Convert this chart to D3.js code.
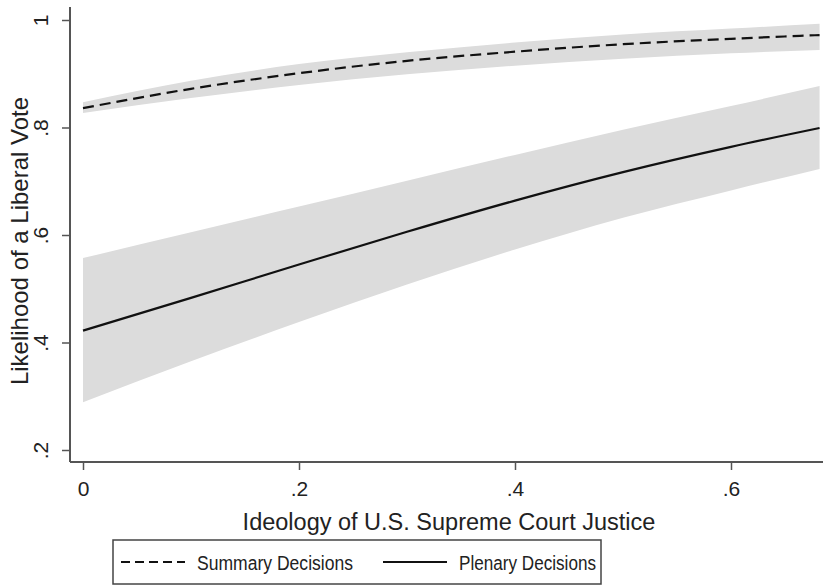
<!DOCTYPE html>
<html lang="en">
<head>
<meta charset="utf-8">
<title>D3: Likelihood of a Liberal Vote</title>
<script src="https://d3js.org/d3.v7.min.js"></script>
<style>
  body { margin: 0; background: #fff; }
  svg text {
    font-family: "Liberation Sans", Arial, sans-serif;
    fill: #222;
  }
  .axis line { stroke: #555; stroke-width: 1.5; }
  .frame { stroke: #555; stroke-width: 2; }
  .band { fill: #dcdcdc; stroke: none; }
  .fit { fill: none; stroke: #111; stroke-width: 2.2; }
</style>
</head>
<body>
<script>

//Width and height
var w = 823;
var h = 588;

var ideology = [0, 0.1, 0.2, 0.3, 0.4, 0.5, 0.6, 0.682];

//Summary decisions: fit and 95% band
var summaryFit   = [0.836, 0.872, 0.901, 0.924, 0.941, 0.955, 0.965, 0.972];
var summaryUpper = [0.847, 0.887, 0.918, 0.940, 0.958, 0.973, 0.984, 0.993];
var summaryLower = [0.827, 0.855, 0.879, 0.899, 0.915, 0.928, 0.938, 0.944];

//Plenary decisions: fit and 95% band
var plenaryFit   = [0.422, 0.483, 0.545, 0.606, 0.664, 0.717, 0.764, 0.799];
var plenaryUpper = [0.557, 0.605, 0.653, 0.701, 0.749, 0.796, 0.840, 0.877];
var plenaryLower = [0.289, 0.365, 0.438, 0.508, 0.573, 0.632, 0.683, 0.723];

//Ticks
var xTicks = [0, 0.2, 0.4, 0.6];
var xTickLabels = ["0", ".2", ".4", ".6"];
var yTicks = [0.2, 0.4, 0.6, 0.8, 1];
var yTickLabels = [".2", ".4", ".6", ".8", "1"];

var seriesNames = ["Summary Decisions", "Plenary Decisions"];

//Frame of the plot region
var frameLeft = 70, frameRight = 823, frameTop = 7, frameBottom = 462;

var xScale = d3.scaleLinear().domain([0, 0.6]).range([83, 731]);
var yScale = d3.scaleLinear().domain([0.2, 1]).range([450, 20]);

var svg = d3.select("body")
            .append("svg")
            .attr("width", w)
            .attr("height", h);

//Build row objects
function rows(fit, lo, hi) {
  return ideology.map(function(x, i) {
    return { x: x, fit: fit[i], lo: lo[i], hi: hi[i] };
  });
}
var summary = rows(summaryFit, summaryLower, summaryUpper);
var plenary = rows(plenaryFit, plenaryLower, plenaryUpper);

//Area and line generators
var area = d3.area()
             .curve(d3.curveMonotoneX)
             .x(function(d) { return xScale(d.x); })
             .y0(function(d) { return yScale(d.lo); })
             .y1(function(d) { return yScale(d.hi); });

var line = d3.line()
             .curve(d3.curveMonotoneX)
             .x(function(d) { return xScale(d.x); })
             .y(function(d) { return yScale(d.fit); });

//Confidence bands
svg.append("path").datum(summary).attr("class", "band").attr("d", area);
svg.append("path").datum(plenary).attr("class", "band").attr("d", area);

//Fitted lines
svg.append("path")
   .datum(summary)
   .attr("class", "fit")
   .attr("stroke-dasharray", "11,6")
   .attr("d", line);

svg.append("path")
   .datum(plenary)
   .attr("class", "fit")
   .attr("d", line);

//Axes
var xAxis = d3.axisBottom(xScale)
              .tickValues(xTicks)
              .tickSize(8)
              .tickFormat(function(d, i) { return xTickLabels[i]; });

var yAxis = d3.axisLeft(yScale)
              .tickValues(yTicks)
              .tickSize(8)
              .tickFormat(function(d, i) { return yTickLabels[i]; });

var gx = svg.append("g")
            .attr("class", "axis")
            .attr("transform", "translate(0," + frameBottom + ")")
            .call(xAxis);
gx.select(".domain").remove();
gx.selectAll("text")
  .attr("y", 34)
  .attr("dy", 0)
  .style("font-size", "21px");

var gy = svg.append("g")
            .attr("class", "axis")
            .attr("transform", "translate(" + frameLeft + ",0)")
            .call(yAxis);
gy.select(".domain").remove();
gy.selectAll("text")
  .attr("transform", "rotate(-90)")
  .attr("x", 0)
  .attr("y", -22)
  .attr("dy", 0)
  .style("text-anchor", "middle")
  .style("font-size", "21px");

//Axis lines
svg.append("line").attr("class", "frame")
   .attr("x1", frameLeft).attr("x2", frameLeft)
   .attr("y1", frameTop).attr("y2", frameBottom);
svg.append("line").attr("class", "frame")
   .attr("x1", frameLeft).attr("x2", frameRight)
   .attr("y1", frameBottom).attr("y2", frameBottom);

//Axis titles
svg.append("text")
   .attr("x", 449)
   .attr("y", 530)
   .style("text-anchor", "middle")
   .style("font-size", "23.5px")
   .text("Ideology of U.S. Supreme Court Justice");

svg.append("text")
   .attr("transform", "translate(28,241) rotate(-90)")
   .style("text-anchor", "middle")
   .style("font-size", "24px")
   .text("Likelihood of a Liberal Vote");

//Legend
var legend = svg.append("g").attr("transform", "translate(113,540)");

legend.append("rect")
      .attr("width", 488)
      .attr("height", 44)
      .attr("fill", "#fff")
      .attr("stroke", "#444")
      .attr("stroke-width", 1.5);

var legendX = [8, 270];
legend.selectAll(".key")
      .data(seriesNames)
      .enter()
      .append("line")
      .attr("class", "fit")
      .attr("x1", function(d, i) { return legendX[i]; })
      .attr("x2", function(d, i) { return legendX[i] + 64; })
      .attr("y1", 22)
      .attr("y2", 22)
      .attr("stroke-dasharray", function(d, i) { return i === 0 ? "9,5" : null; });

legend.selectAll(".label")
      .data(seriesNames)
      .enter()
      .append("text")
      .attr("x", function(d, i) { return legendX[i] + 76; })
      .attr("y", 30)
      .style("font-size", "20px")
      .attr("textLength", function(d, i) { return i === 0 ? 156 : 137; })
      .attr("lengthAdjust", "spacingAndGlyphs")
      .text(function(d) { return d; });

</script>
</body>
</html>
